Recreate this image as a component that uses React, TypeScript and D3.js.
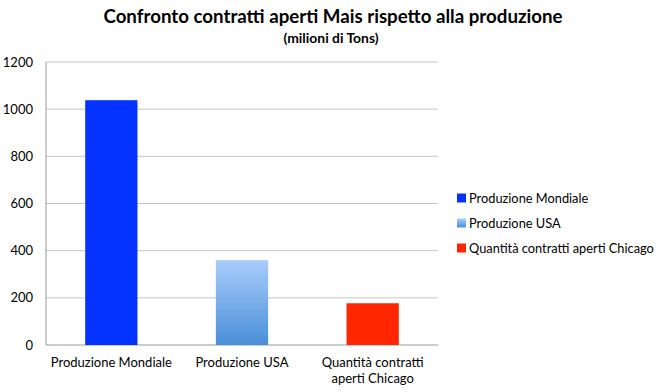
import React from "react";
import * as d3 from "d3";

const categories = ["Produzione Mondiale", "Produzione USA", "Quantità contratti aperti Chicago"];
const categoryLines = [["Produzione Mondiale"], ["Produzione USA"], ["Quantità contratti", "aperti Chicago"]];
const values = [1038, 360, 177];
const yTicks = [0, 200, 400, 600, 800, 1000, 1200];
const colors = ["#0433ff", "url(#usaGrad)", "#ff2600"];
const legendColors = ["#0433ff", "url(#usaGradL)", "#ff2600"];

export default function App() {
  const W = 660, H = 392;
  const left = 46, right = 438, top = 62, bottom = 345;
  const x = d3.scaleBand<string>().domain(categories).range([left, right]).paddingInner(0.6).paddingOuter(0.3);
  const y = d3.scaleLinear().domain([0, 1200]).range([bottom, top]);
  const font = "Lato, 'Open Sans', sans-serif";
  return (
    <svg width={W} height={H} style={{ position: "absolute", left: 0, top: 0 }} fontFamily={font}>
      <defs>
        <linearGradient id="usaGrad" x1="0" y1="0" x2="0" y2="1">
          <stop offset="0" stopColor="#a9cdfc" />
          <stop offset="1" stopColor="#4a8fd8" />
        </linearGradient>
        <linearGradient id="usaGradL" x1="0" y1="0" x2="0" y2="1">
          <stop offset="0" stopColor="#a9cdfc" />
          <stop offset="1" stopColor="#4a8fd8" />
        </linearGradient>
      </defs>
      <rect width={W} height={H} fill="#fff" />
      <text x={333} y={23} textAnchor="middle" fontSize={18.7} fontWeight="bold" fill="#000">
        Confronto contratti aperti Mais rispetto alla produzione
      </text>
      <text x={331} y={43} textAnchor="middle" fontSize={13.9} fontWeight="bold" fill="#000">
        (milioni di Tons)
      </text>
      {yTicks.map((t) => (
        <g key={t}>
          {t > 0 && <line x1={left} x2={right} y1={y(t)} y2={y(t)} stroke="#c6c6c6" strokeWidth={1} />}
          <text x={33} y={y(t) + 4.5} textAnchor="end" fontSize={13} fill="#000">{t}</text>
        </g>
      ))}
      <line x1={left} x2={left} y1={top} y2={bottom} stroke="#999" strokeWidth={1} />
      <line x1={left} x2={right} y1={bottom} y2={bottom} stroke="#999" strokeWidth={1} />
      {categories.map((c, i) => (
        <rect key={c} x={x(c)!} width={x.bandwidth()} y={y(values[i])} height={y(0) - y(values[i])} fill={colors[i]} />
      ))}
      {categories.map((c, i) => (
        <text key={c} x={x(c)! + x.bandwidth() / 2} y={367} textAnchor="middle" fontSize={13} fill="#000">
          {categoryLines[i].map((l, j) => (
            <tspan key={j} x={x(c)! + x.bandwidth() / 2} dy={j === 0 ? 0 : 16}>{l}</tspan>
          ))}
        </text>
      ))}
      {categories.map((c, i) => {
        const cy = 198 + i * 25;
        return (
          <g key={c}>
            <rect x={457} y={cy - 4.5} width={9} height={9} fill={legendColors[i]} />
            <text x={469} y={cy + 4.5} fontSize={12.8} fill="#000">{c}</text>
          </g>
        );
      })}
    </svg>
  );
}
